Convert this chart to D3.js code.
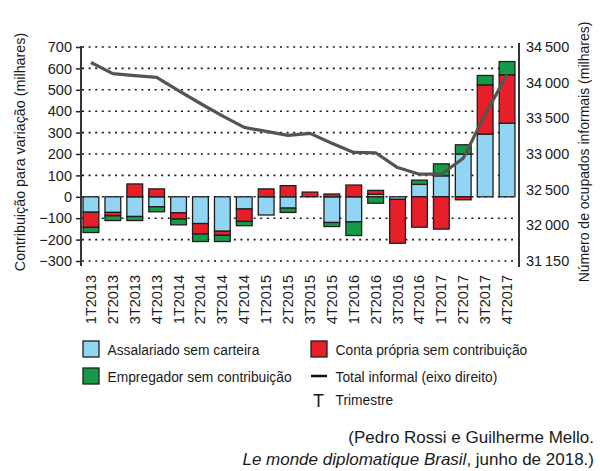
<!DOCTYPE html>
<html>
<head>
<meta charset="utf-8">
<script src="https://cdn.jsdelivr.net/npm/d3@7"></script>
<style>
  html, body { margin: 0; padding: 0; background: #fff; }
  svg { display: block; font-family: "Liberation Sans", Arial, Helvetica, sans-serif; }
</style>
</head>
<body>
<svg id="chart" width="600" height="471"></svg>
<script>
// ---- Data ----
const categories = ["1T2013","2T2013","3T2013","4T2013","1T2014","2T2014","3T2014","4T2014",
  "1T2015","2T2015","3T2015","4T2015","1T2016","2T2016","3T2016","4T2016",
  "1T2017","2T2017","3T2017","4T2017"];
const assalariado  = [-72,-73,-92,-47,-75,-125,-161,-57,-85,-53,0,-120,-117,12,-12,58,98,200,293,344];
const contaPropria = [-71,-16,60,37,-29,-49,-19,-58,37,52,22,13,55,18,-205,-142,-151,-14,230,226];
const empregador   = [-24,-22,-19,-23,-27,-35,-29,-20,0,-20,0,-19,-64,-30,0,20,56,43,44,62];
const totalInformal = [34282,34127,34100,34075,33888,33708,33534,33373,33317,33261,33289,33150,
  33022,33017,32810,32717,32717,32940,33555,34113];
const leftTicks = [-300,-200,-100,0,100,200,300,400,500,600,700];
const rightTicks = [31500,32000,32500,33000,33500,34000,34500];
const rightTickLabels = ["31\u2009150","32\u2009000","32\u2009500","33\u2009000","33\u2009500","34\u2009000","34\u2009500"];
const seriesKeys = ["assalariado","contaPropria","empregador"];
const seriesNames = ["Assalariado sem carteira","Conta própria sem contribuição","Empregador sem contribuição"];
const seriesColors = ["#92d5f2","#e81f28","#159a48"];

const rows = categories.map((c,i)=>({cat:c, assalariado:assalariado[i], contaPropria:contaPropria[i], empregador:empregador[i]}));

const svg = d3.select("#chart");
const plotTop = 47, plotBottom = 261;

const x = d3.scaleBand().domain(categories).range([80, 518]).paddingInner(0.28).paddingOuter(0.14);
const yL = d3.scaleLinear().domain([-300, 700]).range([plotBottom, plotTop]);
const yR = d3.scaleLinear().domain([31500, 34500]).range([plotBottom, plotTop]);

// grid
const grid = svg.append("g");
grid.selectAll("line").data(leftTicks).join("line")
  .attr("x1", 82).attr("x2", 517)
  .attr("y1", d=>yL(d)).attr("y2", d=>yL(d))
  .attr("stroke", "#1a1a1a").attr("stroke-width", 1.6)
  .attr("stroke-dasharray", "2,4.6");

// left axis
const axL = svg.append("g").attr("transform", "translate(81,0)")
  .call(d3.axisLeft(yL).tickValues(leftTicks).tickSize(5).tickPadding(4));
axL.select(".domain").remove();
axL.selectAll(".tick line").attr("stroke", "#222").attr("stroke-width", 1.5);
axL.selectAll(".tick text").attr("font-size", 14.5).attr("fill", "#1a1a1a")
  .attr("font-family", "Liberation Sans, Arial, sans-serif");
svg.append("line").attr("x1", 81).attr("x2", 81).attr("y1", plotTop - 1).attr("y2", plotBottom + 5)
  .attr("stroke", "#333").attr("stroke-width", 2);

// right axis
const axR = svg.append("g").attr("transform", "translate(519,0)")
  .call(d3.axisRight(yR).tickValues(rightTicks).tickSize(0).tickPadding(7)
    .tickFormat((d,i)=>rightTickLabels[i]));
axR.select(".domain").remove();
axR.selectAll(".tick text").attr("font-size", 14.5).attr("fill", "#1a1a1a")
  .attr("font-family", "Liberation Sans, Arial, sans-serif");
svg.append("line").attr("x1", 519).attr("x2", 519).attr("y1", plotTop - 4).attr("y2", plotBottom + 6)
  .attr("stroke", "#333").attr("stroke-width", 2);

// bars
const stack = d3.stack().keys(seriesKeys).offset(d3.stackOffsetDiverging);
const stacked = stack(rows);
svg.append("g").selectAll("g").data(stacked).join("g")
  .attr("fill", (d,i)=>seriesColors[i])
  .selectAll("rect").data(d=>d.filter(s=>s[1]!==s[0])).join("rect")
  .attr("x", d=>x(d.data.cat))
  .attr("width", x.bandwidth())
  .attr("y", d=>yL(Math.max(d[0],d[1])))
  .attr("height", d=>Math.abs(yL(d[0])-yL(d[1])))
  .attr("stroke", "#1e1e1e").attr("stroke-width", 1.3);

// line
const line = d3.line().x((d,i)=>x(categories[i]) + x.bandwidth()/2).y(d=>yR(d));
svg.append("path").datum(totalInformal).attr("d", line)
  .attr("fill", "none").attr("stroke", "#55554f").attr("stroke-width", 3.2)
  .attr("stroke-linejoin", "round");

// x labels
svg.append("g").selectAll("text").data(categories).join("text")
  .attr("transform", d=>`translate(${x(d)+x.bandwidth()/2+5},${275}) rotate(-90)`)
  .attr("text-anchor", "end").attr("font-size", 14.5).attr("fill", "#1a1a1a")
  .text(d=>d);

// axis titles
svg.append("text").attr("transform", "translate(25,152) rotate(-90)")
  .attr("text-anchor", "middle").attr("font-size", 14.3).attr("fill", "#1a1a1a")
  .text("Contribuição para variação (milhares)");
svg.append("text").attr("transform", "translate(589,152) rotate(-90)")
  .attr("text-anchor", "middle").attr("font-size", 14).attr("fill", "#1a1a1a")
  .text("Número de ocupados informais (milhares)");

// legend
const lg = svg.append("g");
const legendPos = [[83,341],[311,341],[83,368]];
seriesNames.forEach((n,i)=>{
  const [lx,ly] = legendPos[i];
  lg.append("rect").attr("x", lx).attr("y", ly).attr("width", 16).attr("height", 16)
    .attr("fill", seriesColors[i]).attr("stroke", "#1e1e1e").attr("stroke-width", 1.3);
  lg.append("text").attr("x", lx+24.5).attr("y", ly+13.5).attr("font-size", 13.8).attr("fill", "#1a1a1a").text(n);
});
lg.append("line").attr("x1", 311).attr("x2", 327).attr("y1", 376).attr("y2", 376)
  .attr("stroke", "#111").attr("stroke-width", 2.5);
lg.append("text").attr("x", 335.5).attr("y", 381.5).attr("font-size", 13.8).attr("fill", "#1a1a1a")
  .text("Total informal (eixo direito)");
lg.append("text").attr("x", 313).attr("y", 407).attr("font-size", 18).attr("fill", "#1a1a1a").text("T");
lg.append("text").attr("x", 335.5).attr("y", 405).attr("font-size", 13.8).attr("fill", "#1a1a1a").text("Trimestre");

// source
svg.append("text").attr("x", 594).attr("y", 443).attr("text-anchor", "end")
  .attr("font-size", 17).attr("fill", "#1a1a1a").text("(Pedro Rossi e Guilherme Mello.");
const src2 = svg.append("text").attr("x", 594).attr("y", 465).attr("text-anchor", "end")
  .attr("font-size", 17).attr("fill", "#1a1a1a");
src2.append("tspan").attr("font-style", "italic").text("Le monde diplomatique Brasil");
src2.append("tspan").text(", junho de 2018.)");
</script>
</body>
</html>
